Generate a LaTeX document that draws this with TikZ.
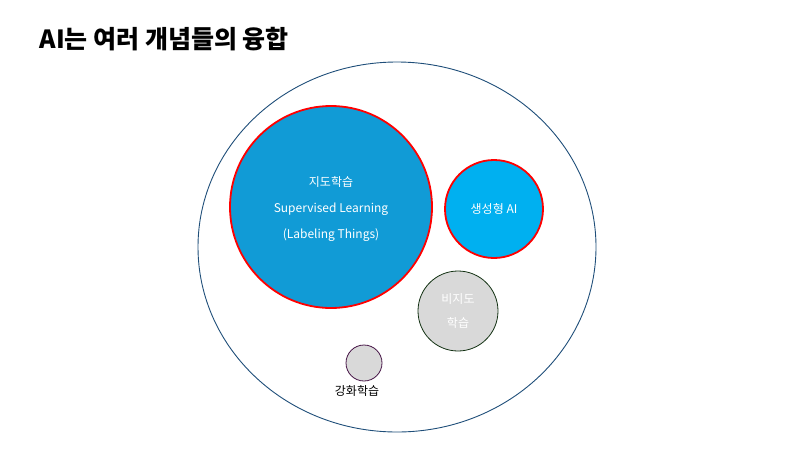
\documentclass[tikz,border=0pt]{standalone}
\usepackage{fontspec}
\setmainfont{Noto Sans CJK KR}
\begin{document}
\begin{tikzpicture}[x=1pt,y=-1pt,
  lbl/.style={font=\fontsize{12}{26}\selectfont,align=center}]
\useasboundingbox (0,0) rectangle (800,450);
\node[anchor=west,font=\fontsize{25}{28}\selectfont\bfseries] (title) at (36,39) {AI는 여러 개념들의 융합};
\draw[color={rgb,255:red,31;green,78;blue,121},line width=0.9pt] (397,247) ellipse [x radius=199,y radius=185];
\node[circle,draw=red,line width=1.8pt,fill={rgb,255:red,17;green,155;blue,214},minimum size=202pt,inner sep=0pt] (sup) at (331,207) {};
\node[lbl,text=white] at (331,209) {지도학습\\Supervised Learning\\(Labeling Things)};
\node[circle,draw=red,line width=1.8pt,fill={rgb,255:red,0;green,176;blue,240},minimum size=98pt,inner sep=0pt,lbl,text=white] (gen) at (494,209) {생성형 AI};
\node[circle,draw={rgb,255:red,20;green,50;blue,20},line width=0.8pt,fill={rgb,255:red,217;green,217;blue,217},minimum size=80pt,inner sep=0pt,lbl,text=white,font=\fontsize{12}{24}\selectfont] (uns) at (458,311) {비지도\\학습};
\node[circle,draw={rgb,255:red,70;green,20;blue,70},line width=0.8pt,fill={rgb,255:red,217;green,217;blue,217},minimum size=36pt,inner sep=0pt] (rl) at (364,363) {};
\node[lbl,text=black] (rllbl) at (357,391) {강화학습};
\end{tikzpicture}
\end{document}
